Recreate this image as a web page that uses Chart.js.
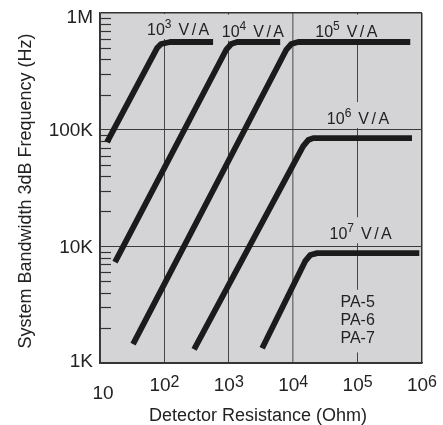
<!DOCTYPE html>
<html>
<head>
<meta charset="utf-8">
<script src="https://cdn.jsdelivr.net/npm/chart.js@4.4.1/dist/chart.umd.min.js"></script>
<style>
  html, body { margin: 0; padding: 0; background: #ffffff; }
  canvas { display: block; }
</style>
</head>
<body>
<canvas id="bw" width="443" height="425"></canvas>
<script>
// Bandwidth vs detector resistance for five transimpedance gain settings.
// Each curve: rising edge start, knee (three points), flat end.
const gainExponents = [3, 4, 5, 6, 7];            // gain = 10^n V/A

const r1e3 = [12.85, 76.9, 88.7, 122.5, 570];             // Ohm
const f1e3 = [78300, 501000, 542000, 564000, 564000];     // Hz
const r1e4 = [17.1, 908, 1087, 1346, 6280];
const f1e4 = [7320, 482000, 542000, 564000, 564000];
const r1e5 = [32.6, 7780, 9310, 11940, 657000];
const f1e5 = [1450, 482000, 542000, 564000, 564000];
const r1e6 = [289, 14290, 17100, 20470, 700000];
const f1e6 = [1310, 72400, 81500, 84700, 84700];
const r1e7 = [3296, 15350, 18370, 23600, 908000];
const f1e7 = [1340, 7460, 8420, 8750, 8750];

// Where each "10^n V/A" caption starts (left edge, baseline)
const labelR = [53.7, 778, 21980, 33300, 36600];
const labelF = [647000, 627000, 627000, 111700, 11500];

// Model names stacked under the 10^5 Ohm gridline
const modelNames = ['PA-5', 'PA-6', 'PA-7'];
const modelR = 100000;
const modelF = 3030;

// Axis ticks
const xTickValues = [10, 100, 1000, 10000, 100000, 1000000];
const xTickExponents = ['', '2', '3', '4', '5', '6'];
const yTickValues = [1000, 10000, 100000, 1000000];
const yTickLabels = ['1K', '10K', '100K', '1M'];

const FONT = '"Liberation Sans", Arial, Helvetica, sans-serif';
const PLOT_BG = '#d4d4d6';
const INK = '#222222';
const FRAME = '#333333';

const curves = [
  { r: r1e3, f: f1e3 },
  { r: r1e4, f: f1e4 },
  { r: r1e5, f: f1e5 },
  { r: r1e6, f: f1e6 },
  { r: r1e7, f: f1e7 }
];

function gainLabelLayout(ctx, chart, i) {
  const x = chart.scales.x.getPixelForValue(labelR[i]);
  const y = chart.scales.y.getPixelForValue(labelF[i]);
  ctx.font = `16px ${FONT}`;
  const w10 = ctx.measureText('10').width;
  ctx.font = `12px ${FONT}`;
  const wExp = ctx.measureText(String(gainExponents[i])).width;
  ctx.font = `16px ${FONT}`;
  ctx.letterSpacing = '2.5px';
  const wUnit = ctx.measureText('V/A').width;
  ctx.letterSpacing = '0px';
  const gap = 7;
  return { x, y, w10, wExp, wUnit, gap, width: w10 + wExp + gap + wUnit };
}

const decorations = {
  id: 'decorations',
  beforeDraw(chart) {
    const { ctx, chartArea: a } = chart;
    ctx.save();
    ctx.fillStyle = PLOT_BG;
    ctx.fillRect(a.left, a.top, a.right - a.left, a.bottom - a.top);
    ctx.restore();
  },
  beforeDatasetsDraw(chart) {
    const { ctx, chartArea: a } = chart;
    const ys = chart.scales.y;
    ctx.save();
    // inner minor ticks on the frequency axis
    ctx.strokeStyle = FRAME;
    ctx.lineWidth = 1.2;
    for (let d = 3; d < 6; d++) {
      for (let k = 2; k <= 9; k++) {
        const y = Math.round(ys.getPixelForValue(k * Math.pow(10, d))) + 0.5;
        ctx.beginPath();
        ctx.moveTo(a.left, y);
        ctx.lineTo(a.left + 11, y);
        ctx.stroke();
      }
    }
    // plain backing behind captions so gridlines break around them
    ctx.fillStyle = PLOT_BG;
    for (let i = 0; i < gainExponents.length; i++) {
      const L = gainLabelLayout(ctx, chart, i);
      const top = Math.max(a.top + 1, L.y - 22);
      ctx.fillRect(L.x - 2, top, L.width + 4, L.y + 4 - top);
    }
    ctx.font = `16px ${FONT}`;
    const mx = chart.scales.x.getPixelForValue(modelR);
    const my = ys.getPixelForValue(modelF);
    const mw = Math.max(...modelNames.map(t => ctx.measureText(t).width));
    ctx.fillRect(mx - mw / 2 - 3, my - 17, mw + 6, 18.3 * (modelNames.length - 1) + 26);
    ctx.restore();
  },
  afterDatasetsDraw(chart) {
    const { ctx, chartArea: a } = chart;
    const xs = chart.scales.x, ys = chart.scales.y;
    ctx.save();
    ctx.fillStyle = INK;
    ctx.textBaseline = 'alphabetic';
    ctx.textAlign = 'left';

    // gain captions
    for (let i = 0; i < gainExponents.length; i++) {
      const L = gainLabelLayout(ctx, chart, i);
      ctx.font = `16px ${FONT}`;
      ctx.fillText('10', L.x, L.y);
      ctx.font = `12px ${FONT}`;
      ctx.fillText(String(gainExponents[i]), L.x + L.w10, L.y - 7);
      ctx.font = `16px ${FONT}`;
      ctx.letterSpacing = '2.5px';
      ctx.fillText('V/A', L.x + L.w10 + L.wExp + L.gap, L.y);
      ctx.letterSpacing = '0px';
    }

    // model names
    ctx.font = `16px ${FONT}`;
    ctx.textAlign = 'center';
    const mx = xs.getPixelForValue(modelR);
    const my = ys.getPixelForValue(modelF);
    modelNames.forEach((t, j) => ctx.fillText(t, mx, my + j * 18.3));

    // frequency tick labels
    ctx.font = `19px ${FONT}`;
    ctx.textAlign = 'right';
    yTickValues.forEach((v, j) => {
      let y = ys.getPixelForValue(v) + 6.8;
      if (v === ys.max) y += 3;
      if (v === ys.min) y -= 3;
      ctx.fillText(yTickLabels[j], a.left - 7, y);
    });

    // resistance tick labels (powers of ten)
    ctx.textAlign = 'left';
    xTickValues.forEach((v, j) => {
      const px = xs.getPixelForValue(v);
      const exp = xTickExponents[j];
      ctx.font = `19px ${FONT}`;
      const wb = ctx.measureText('10').width;
      if (!exp) {
        ctx.fillText('10', px + 3 - wb / 2, a.bottom + 36);
        return;
      }
      ctx.font = `16px ${FONT}`;
      const we = ctx.measureText(exp).width;
      const x0 = px - (wb + we) / 2;
      ctx.font = `19px ${FONT}`;
      ctx.fillText('10', x0, a.bottom + 27.5);
      ctx.font = `16px ${FONT}`;
      ctx.fillText(exp, x0 + wb, a.bottom + 23.5);
    });

    // axis titles
    ctx.font = `18px ${FONT}`;
    ctx.textAlign = 'center';
    ctx.fillText('Detector Resistance (Ohm)', 258, 421);
    ctx.translate(31, 191);
    ctx.rotate(-Math.PI / 2);
    ctx.fillText('System Bandwidth 3dB Frequency (Hz)', 0, 0);
    ctx.restore();
  }
};

const xGridColor = c => {
  const v = c.tick && c.tick.value;
  if (v === 1000000) return FRAME;
  if (v === 10000) return '#7c7c7c';
  return '#454545';
};
const xGridWidth = c => {
  const v = c.tick && c.tick.value;
  if (v === 1000000) return 1.5;
  if (v === 10000) return 1.6;
  return 1;
};
const yGridColor = c => (c.tick && c.tick.value === 1000000) ? FRAME : '#3a3a3a';
const yGridWidth = c => (c.tick && c.tick.value === 1000000) ? 1.5 : 1;

new Chart(document.getElementById('bw'), {
  type: 'line',
  data: {
    datasets: curves.map((c, i) => ({
      label: `10^${gainExponents[i]} V/A`,
      data: c.r.map((r, k) => ({ x: r, y: c.f[k] })),
      borderColor: '#1b1b1b',
      borderWidth: 5.8,
      borderJoinStyle: 'round',
      borderCapStyle: 'butt',
      pointRadius: 0,
      tension: 0,
      fill: false
    }))
  },
  options: {
    responsive: false,
    animation: false,
    events: [],
    layout: { padding: { top: 13, right: 21, left: 0, bottom: 0 } },
    plugins: { legend: { display: false }, tooltip: { enabled: false } },
    scales: {
      x: {
        type: 'logarithmic',
        min: 10,
        max: 1000000,
        afterBuildTicks: s => { s.ticks = xTickValues.map(v => ({ value: v })); },
        afterFit: s => { s.height = 62; },
        ticks: { display: false },
        grid: { drawTicks: false, color: xGridColor, lineWidth: xGridWidth },
        border: { display: true, color: FRAME, width: 1.5 }
      },
      y: {
        type: 'logarithmic',
        min: 1000,
        max: 1000000,
        afterBuildTicks: s => { s.ticks = yTickValues.map(v => ({ value: v })); },
        afterFit: s => { s.width = 100; },
        ticks: { display: false },
        grid: { drawTicks: false, color: yGridColor, lineWidth: yGridWidth },
        border: { display: true, color: FRAME, width: 1.5 }
      }
    }
  },
  plugins: [decorations]
});
</script>
</body>
</html>
